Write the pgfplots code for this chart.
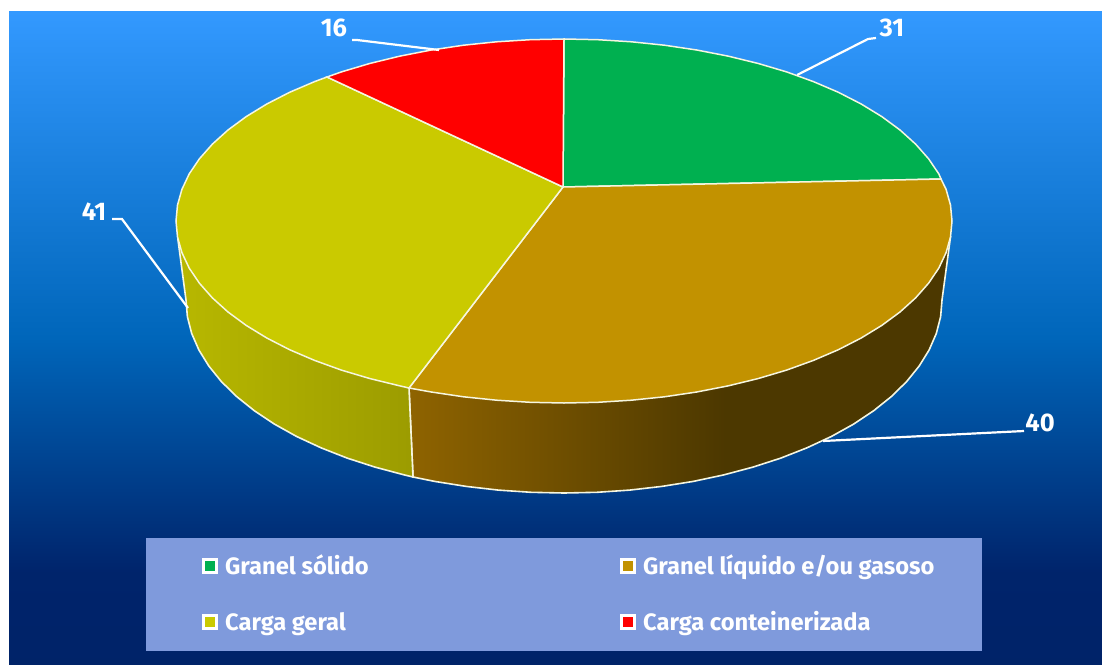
\documentclass[border=0pt]{standalone}
\usepackage{pgfplots}
\usepackage{fontspec}
\setmainfont{Fira Sans}
\pgfplotsset{compat=1.18}
\pgfdeclareverticalshading{bgsh}{100bp}{rgb(0bp)=(0,.122,.37); rgb(32bp)=(0,.14,.42); rgb(50bp)=(0,.40,.73); rgb(75bp)=(.2,.6,1); rgb(100bp)=(.2,.6,1)}
\pgfdeclarehorizontalshading{brsh}{100bp}{rgb(0bp)=(.56,.39,0); rgb(25bp)=(.56,.39,0); rgb(54bp)=(.30,.22,0); rgb(100bp)=(.30,.22,0)}
\pgfdeclarehorizontalshading{yesh}{100bp}{rgb(0bp)=(.72,.72,0); rgb(25bp)=(.72,.72,0); rgb(75bp)=(.54,.54,0); rgb(100bp)=(.54,.54,0)}
\definecolor{gr}{HTML}{00B050}
\definecolor{br}{HTML}{C29200}
\definecolor{ye}{HTML}{CACA00}
\definecolor{re}{HTML}{FF0000}
\definecolor{lg}{HTML}{7F9ADC}
\definecolor{ln}{HTML}{F6F6E0}
\begin{document}
\begin{tikzpicture}
\begin{axis}[scale only axis,width=1102pt,height=664pt,xmin=0,xmax=1102,ymin=0,ymax=664,y dir=reverse,hide axis,clip=false]
\addplot[draw=none,fill=white] coordinates {(0,0)(1102,0)(1102,664)(0,664)} -- cycle;
\addplot[draw=none,shading=bgsh] coordinates {(9,11)(1102,11)(1102,664)(9,664)} -- cycle;
% side walls
\addplot[draw=ln,line width=1.6pt,shading=brsh] coordinates {(950.5,236.9)(942,300)(940.6,316.8)(936.3,333.5)(929.1,350)(919.2,366)(906.6,381.6)(891.4,396.5)(873.7,410.7)(853.6,424.1)(831.3,436.5)(807,447.8)(780.8,458.1)(753,467.1)(723.7,474.9)(693.3,481.4)(661.8,486.4)(629.6,490.1)(596.9,492.3)(564,493)(531.1,492.3)(498.4,490.1)(466.2,486.4)(434.7,481.4)(413,477)(409,388)(564,221)} -- cycle;
\addplot[draw=ln,line width=1.6pt,shading=yesh] coordinates {(409,388)(413,477)(404.3,474.9)(375,467.1)(347.2,458.1)(321,447.8)(296.7,436.5)(274.4,424.1)(254.3,410.7)(236.6,396.5)(221.4,381.6)(208.8,366)(198.9,350)(191.7,333.5)(187.4,316.8)(186,300)(178,240)(564,221)} -- cycle;
% top
\addplot[draw=ln,line width=1.5pt,fill=gr] coordinates {(563,187)(564,39)(597.8,39.7)(631.4,41.8)(664.4,45.2)(696.7,50)(728,56.1)(758,63.4)(786.6,71.9)(813.4,81.6)(838.4,92.3)(861.2,104)(881.8,116.6)(900,130)(915.6,144.1)(928.6,158.8)(938.8,173.9)(941,179)} -- cycle;
\addplot[draw=ln,line width=1.5pt,fill=br] coordinates {(563,187)(941,179)(946.1,189.4)(950.5,205.1)(952,221)(950.5,236.9)(946.1,252.6)(938.8,268.1)(928.6,283.2)(915.6,297.9)(900,312)(881.8,325.4)(861.2,338)(838.4,349.7)(813.4,360.4)(786.6,370.1)(758,378.6)(728,385.9)(696.7,392)(664.4,396.8)(631.4,400.2)(597.8,402.3)(564,403)(530.2,402.3)(496.6,400.2)(463.6,396.8)(431.3,392)(409,388)} -- cycle;
\addplot[draw=ln,line width=1.5pt,fill=ye] coordinates {(563,187)(409,388)(400,385.9)(370,378.6)(341.4,370.1)(314.6,360.4)(289.6,349.7)(266.8,338)(246.2,325.4)(228,312)(212.4,297.9)(199.4,283.2)(189.2,268.1)(181.9,252.6)(177.5,236.9)(176,221)(177.5,205.1)(181.9,189.4)(189.2,173.9)(199.4,158.8)(212.4,144.1)(228,130)(246.2,116.6)(266.8,104)(289.6,92.3)(314.6,81.6)(327,77)} -- cycle;
\addplot[draw=ln,line width=1.5pt,fill=re] coordinates {(563,187)(327,77)(341.4,71.9)(370,63.4)(400,56.1)(431.3,50)(463.6,45.2)(496.6,41.8)(530.2,39.7)(564,39)} -- cycle;
% leader lines
\addplot[white,line width=2.2pt] coordinates {(352,40)(357,40)(439,50)};
\addplot[white,line width=2.2pt] coordinates {(112,219)(122,219)(188,308)};
\addplot[white,line width=2.2pt] coordinates {(1024,431)(823,441)};
\addplot[white,line width=2.2pt] coordinates {(797,75)(868,39)(876,38)};
% legend
\addplot[draw=none,fill=lg] coordinates {(146,538)(982,538)(982,651)(146,651)} -- cycle;
\addplot[only marks,mark=square*,mark size=6.5pt,mark options={draw=white,line width=2.4pt,fill=gr}] coordinates {(210,566)};
\addplot[only marks,mark=square*,mark size=6.5pt,mark options={draw=white,line width=2.4pt,fill=br}] coordinates {(628,566)};
\addplot[only marks,mark=square*,mark size=6.5pt,mark options={draw=white,line width=2.4pt,fill=ye}] coordinates {(210,622)};
\addplot[only marks,mark=square*,mark size=6.5pt,mark options={draw=white,line width=2.4pt,fill=re}] coordinates {(628,622)};
\tikzset{lb/.style={text=white,font=\fontsize{25.5}{28}\selectfont\bfseries,inner sep=0pt},ll/.style={text=white,font=\fontsize{23.7}{26}\selectfont\bfseries,inner sep=0pt,anchor=base west}}
\node[lb] at (axis cs:334,28) {16};
\node[lb] at (axis cs:94,212) {41};
\node[lb] at (axis cs:1040,423) {40};
\node[lb] at (axis cs:892,28) {31};
\node[ll] at (axis cs:225,574) {Granel sólido};
\node[ll] at (axis cs:643,574) {Granel líquido e/ou gasoso};
\node[ll] at (axis cs:225,630) {Carga geral};
\node[ll] at (axis cs:643,630) {Carga conteinerizada};
\end{axis}
\end{tikzpicture}
\end{document}
